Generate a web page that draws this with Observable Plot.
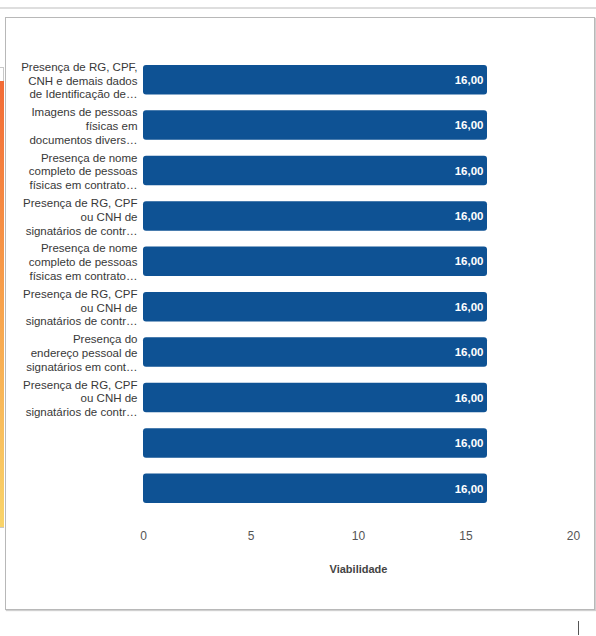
<!DOCTYPE html>
<html>
<head>
<meta charset="utf-8">
<script src="https://cdn.jsdelivr.net/npm/d3@7"></script>
<script src="https://cdn.jsdelivr.net/npm/@observablehq/plot@0.6"></script>
<style>
  html, body { margin: 0; padding: 0; background: #fff; }
  #wrap { position: relative; width: 596px; height: 636px; overflow: hidden; }
  .deco { position: absolute; pointer-events: none; }
  #chart { position: absolute; left: 0; top: 0; }
  g[aria-label="category labels"] text { letter-spacing: -0.5px; }
  g[aria-label="value labels"] text { letter-spacing: -0.6px; }
  g[aria-label="axis title"] text { letter-spacing: -0.3px; }
</style>
</head>
<body>
<div id="wrap">
  <div class="deco" style="left:0;top:7px;width:596px;height:2px;background:#dedede;"></div>
  <div class="deco" style="left:5px;top:17px;width:588px;height:591px;border:1px solid #b8b8b8;box-shadow:1px 1px 1px #d0d0d0;"></div>
  <div class="deco" style="left:-1px;top:67px;width:4px;height:459px;border:1px solid #c8c8c8;border-left:none;"></div>
  <div class="deco" style="left:0;top:81px;width:4px;height:446px;background:linear-gradient(#f26a35,#f7a24c 50%,#f9d46a);"></div>
  <div class="deco" style="left:578px;top:621px;width:1px;height:14px;background:#555;"></div>
  <div id="chart"></div>
</div>
<script>
const keys = ["c1","c2","c3","c4","c5","c6","c7","c8","c9","c10"];
const labels = [
  "Presença de RG, CPF,\nCNH e demais dados\nde Identificação de…",
  "Imagens de pessoas\nfísicas em\ndocumentos divers…",
  "Presença de nome\ncompleto de pessoas\nfísicas em contrato…",
  "Presença de RG, CPF\nou CNH de\nsignatários de contr…",
  "Presença de nome\ncompleto de pessoas\nfísicas em contrato…",
  "Presença de RG, CPF\nou CNH de\nsignatários de contr…",
  "Presença do\nendereço pessoal de\nsignatários em cont…",
  "Presença de RG, CPF\nou CNH de\nsignatários de contr…",
  "",
  ""
];
const values = [16, 16, 16, 16, 16, 16, 16, 16, 16, 16];
const valueLabels = ["16,00","16,00","16,00","16,00","16,00","16,00","16,00","16,00","16,00","16,00"];
const xTicks = [0, 5, 10, 15, 20];
const xTitle = "Viabilidade";

const data = keys.map((k, i) => ({key: k, label: labels[i], value: values[i], text: valueLabels[i]}));
const font = "'Liberation Sans', Arial, sans-serif";

const chart = Plot.plot({
  width: 596,
  height: 636,
  marginLeft: 143,
  marginRight: 23,
  marginTop: 49,
  marginBottom: 117,
  style: {background: "transparent", fontFamily: font, overflow: "visible"},
  x: {domain: [0, 20], ticks: xTicks, label: null},
  y: {domain: keys, padding: 0.35, round: false, label: null, axis: null},
  marks: [
    Plot.barX(data, {x: "value", y: "key", fill: "#0e5294", rx: 3}),
    Plot.text(data, {x: "value", y: "key", text: "text", textAnchor: "end", dx: -4,
      fill: "#fff", fontWeight: "bold", fontSize: 11.5, ariaLabel: "value labels"}),
    Plot.text(data, {y: "key", text: "label", frameAnchor: "left", textAnchor: "end", dx: -6,
      fill: "#383838", fontSize: 11.5, lineHeight: 1.2, ariaLabel: "category labels"}),
    Plot.axisX({ticks: xTicks, tickSize: 0, tickPadding: 12, fontSize: 12, color: "#555", label: null}),
    Plot.text([xTitle], {frameAnchor: "bottom", dy: 53, fontWeight: "bold", fontSize: 11, fill: "#444", ariaLabel: "axis title"})
  ]
});
document.getElementById("chart").appendChild(chart);
</script>
</body>
</html>
